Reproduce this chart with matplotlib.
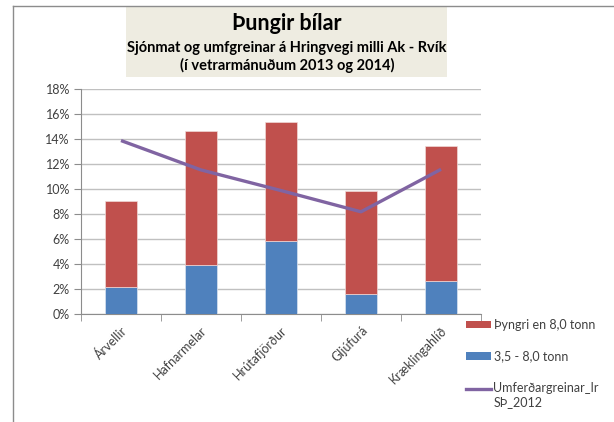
import matplotlib
matplotlib.use("Agg")
import matplotlib.pyplot as plt
from matplotlib.patches import Rectangle, Patch
from matplotlib.lines import Line2D
from matplotlib.legend_handler import HandlerLine2D
from matplotlib.ticker import FuncFormatter, MultipleLocator

categories = ["Árvellir", "Hafnarmelar", "Hrútafjörður", "Gljúfurá", "Kræklingahlíð"]
medium = [2.16, 3.92, 5.84, 1.65, 2.69]          # 3,5 - 8,0 tonn (%)
heavy_total = [9.09, 14.69, 15.38, 9.84, 13.46]  # stacked top (%)
heavy = [t - m for t, m in zip(heavy_total, medium)]  # Þyngri en 8,0 tonn (%)
traffic = [13.9, 11.55, 9.9, 8.2, 11.6]          # Umferðargreinar_Ir SÞ_2012 (%)

labels = ["Þyngri en 8,0 tonn", "3,5 - 8,0 tonn", "Umferðargreinar_Ir\nSÞ_2012"]
title = "Þungir bílar"
subtitle = "Sjónmat og umfgreinar á Hringvegi milli Ak - Rvík\n(í vetrarmánuðum 2013 og 2014)"

W, H = 614, 422
plt.rcParams['font.family'] = ['Lato', 'DejaVu Sans']
fig = plt.figure(figsize=(W / 100, H / 100), dpi=100)

def fx(px):
    return px / W

def fy(py):
    return 1 - py / H

# frame lines
fig.add_artist(Line2D([fx(13), fx(13)], [fy(6), 0], color="#8c8c8c", lw=1.0))
fig.add_artist(Line2D([fx(13), 1], [fy(6), fy(6)], color="#8c8c8c", lw=1.0))

# title box
fig.add_artist(Rectangle((fx(126), fy(77)), fx(447) - fx(126), fy(7) - fy(77),
                         facecolor="#EEECE1", edgecolor="none"))
fig.text(fx(287), fy(24), title, ha="center", va="center", fontsize=15.5,
         fontweight="bold", color="#000000")
fig.text(fx(287), fy(57), subtitle, ha="center", va="center", fontsize=10.5,
         fontweight="bold", color="#000000", linespacing=1.3)

ax = fig.add_axes([fx(81), fy(314.3), fx(481) - fx(81), fy(89.3) - fy(314.3)])
x = list(range(len(categories)))
ax.bar(x, medium, width=0.4, color="#4F81BD", edgecolor="#dbe4f0", linewidth=0.5, zorder=3)
ax.bar(x, heavy, width=0.4, bottom=medium, color="#C0504D", edgecolor="#f0d8d7",
       linewidth=0.5, zorder=3)
ax.plot(x, traffic, color="#8064A2", lw=2.4, zorder=4, solid_capstyle="butt")

ax.set_xlim(-0.5, len(categories) - 0.5)
ax.set_ylim(0, 18)
ax.yaxis.set_major_locator(MultipleLocator(2))
ax.yaxis.set_major_formatter(FuncFormatter(lambda v, p: f"{v:.0f}%"))
ax.grid(axis="y", color="#c0c0c0", lw=1.0, zorder=0)
ax.set_axisbelow(True)
for s in ["top", "right"]:
    ax.spines[s].set_visible(False)
ax.spines["left"].set_color("#8c8c8c")
ax.spines["bottom"].set_color("#8c8c8c")
ax.tick_params(axis="y", length=5, color="#8c8c8c", labelsize=9, labelcolor="#404040", pad=3)
ax.set_xticks(x)
ax.set_xticklabels(categories, rotation=45, ha="right", rotation_mode="anchor",
                   fontsize=9, color="#404040")
ax.tick_params(axis="x", length=0, pad=7)
# category boundary ticks
ax.set_xticks([i - 0.5 for i in range(len(categories) + 1)], minor=True)
ax.tick_params(axis="x", which="minor", length=5, color="#8c8c8c")


class TopLineHandler(HandlerLine2D):
    def create_artists(self, legend, orig_handle, xdescent, ydescent, width, height,
                       fontsize, trans):
        arts = super().create_artists(legend, orig_handle, xdescent, ydescent, width,
                                      height, fontsize, trans)
        for a in arts:
            yd = a.get_ydata()
            a.set_ydata([v + 0.55 * fontsize for v in yd])
        return arts


handles = [Patch(facecolor="#C0504D", edgecolor="none"),
           Patch(facecolor="#4F81BD", edgecolor="none"),
           Line2D([], [], color="#8064A2", lw=2.4)]
leg = fig.legend(handles, labels, loc="upper left", bbox_to_anchor=(fx(466), fy(319)),
                 frameon=False, fontsize=9, labelspacing=1.55, handlelength=2.0,
                 handleheight=0.5, handletextpad=0.2, borderpad=0, borderaxespad=0,
                 labelcolor="#404040", handler_map={Line2D: TopLineHandler()})

fig.savefig("out.png", dpi=100)
